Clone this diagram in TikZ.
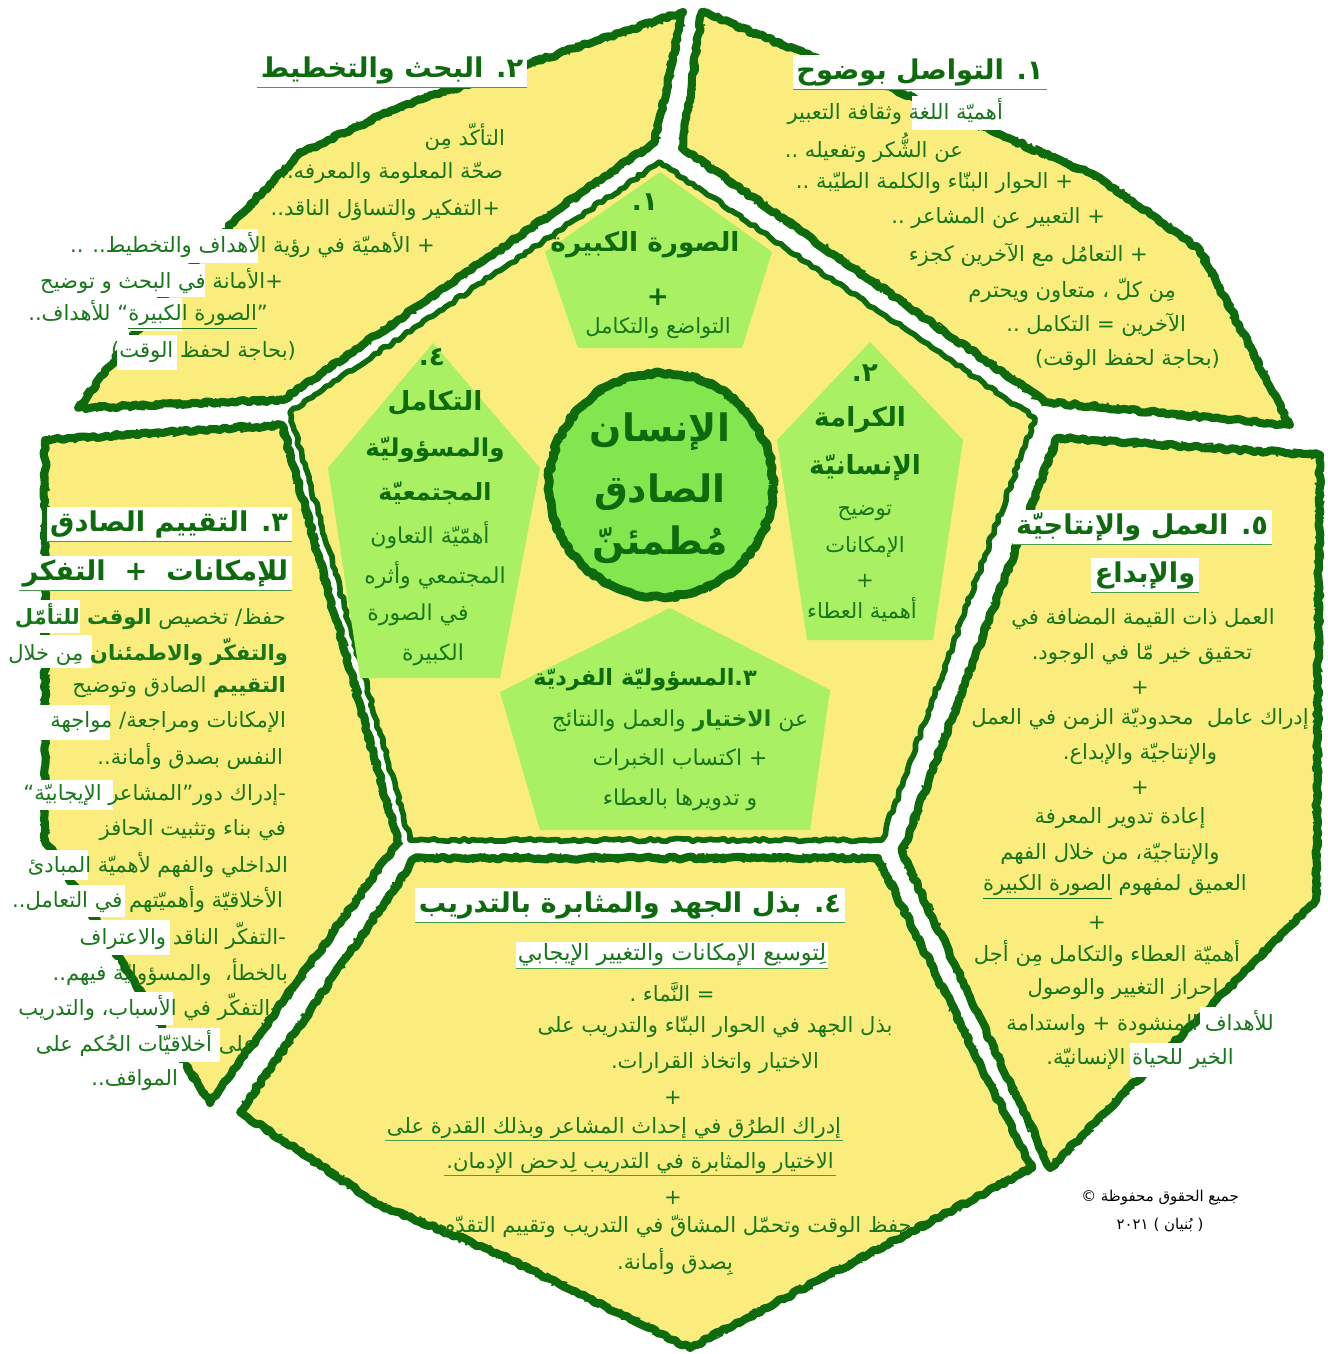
\documentclass[tikz,border=0pt]{standalone}
\usepackage{fontspec}
\usetikzlibrary{decorations.pathmorphing}
\newfontfamily\arabicfont[Script=Arabic]{DejaVu Sans}
\TeXXeTstate=1
\newcommand\ar[1]{\beginR #1\endR}

\definecolor{panelyellow}{HTML}{FAEC7D}
\definecolor{leafgreen}{HTML}{AAF063}
\definecolor{coregreen}{HTML}{82E64F}
\definecolor{rimgreen}{HTML}{0D6A0D}
\definecolor{inkgreen}{HTML}{17761A}
\definecolor{rulegreen}{HTML}{4C9A4C}

\tikzset{
  panel/.style={fill=panelyellow, draw=rimgreen, line width=4.6pt, line join=round,
    decorate, decoration={random steps, segment length=2.5pt, amplitude=0.9pt}},
  fuzz/.style={draw=rimgreen, line width=0.9pt, line join=round,
    decorate, decoration={random steps, segment length=1.2pt, amplitude=2.6pt}},
  leaf/.style={fill=leafgreen},
  patch/.style={fill=white},
  body/.style={text=inkgreen, font=\arabicfont\fontsize{12}{14}\selectfont, inner sep=1pt},
  head/.style={text=rimgreen, font=\arabicfont\bfseries\fontsize{15.5}{18}\selectfont, fill=white, inner sep=2pt},
  title/.style={text=rimgreen, font=\arabicfont\bfseries\fontsize{15}{18}\selectfont, inner sep=1pt},
  core/.style={text=rimgreen, font=\arabicfont\bfseries\fontsize{21.5}{24}\selectfont, inner sep=1pt},
  uline/.style={draw=rulegreen, line width=0.9pt},
  note/.style={text=black, font=\arabicfont\fontsize{8.5}{10}\selectfont, inner sep=1pt}
}
\newcommand\roughpanel[1]{\path[panel] #1; \draw[fuzz] #1;}

\begin{document}
\begin{tikzpicture}[x=0.02cm, y=-0.02cm]
  \useasboundingbox (0,0) rectangle (1327,1354);

  % outer panels
  \roughpanel{(683,12) -- (510,70) -- (400,107) -- (300,153) -- (233,223) -- (160,300) -- (78,408) -- (283,400) -- (655,142) -- cycle}
  \roughpanel{(702,12) -- (913,97) -- (1100,178) -- (1200,250) -- (1290,425) -- (1045,402) -- (682,148) -- cycle}
  \roughpanel{(1057,438) -- (1320,455) -- (1316,900) -- (1050,1168) -- (902,852) -- cycle}
  \roughpanel{(415,858) -- (878,858) -- (1032,1168) -- (690,1348) -- (490,1250) -- (380,1205) -- (240,1112) -- cycle}
  \roughpanel{(45,440) -- (282,425) -- (398,842) -- (210,1103) -- (45,840) -- cycle}

  % central pentagon
  \path[panel, line width=3.2pt] (660,162) -- (1035,418) -- (882,840) -- (410,840) -- (290,412) -- cycle;

  % white text backings
  \fill[patch] (58,229) rectangle (258,263);
  \fill[patch] (25,264) rectangle (205,297);
  \fill[patch] (20,298) rectangle (182,331);
  \fill[patch] (117,335) rectangle (177,370);
  \fill[patch] (912,96) rectangle (1008,130);
  \fill[patch] (0,600) rectangle (80,633);
  \fill[patch] (0,635) rectangle (92,668);
  \fill[patch] (40,705) rectangle (110,740);
  \fill[patch] (0,780) rectangle (113,810);
  \fill[patch] (0,850) rectangle (88,880);
  \fill[patch] (0,885) rectangle (125,917);
  \fill[patch] (58,920) rectangle (170,955);
  \fill[patch] (0,960) rectangle (118,990);
  \fill[patch] (0,992) rectangle (173,1025);
  \fill[patch] (0,1028) rectangle (220,1062);
  \fill[patch] (100,1063) rectangle (183,1098);
  \fill[patch] (1200,1007) rectangle (1277,1040);
  \fill[patch] (1130,1043) rectangle (1193,1077);

  % inner pentagons
  \fill[leaf] (660,172) -- (772,252) -- (742,348) -- (578,348) -- (545,252) -- cycle;
  \fill[leaf] (870,342) -- (963,440) -- (933,640) -- (807,640) -- (777,440) -- cycle;
  \fill[leaf] (670,608) -- (830,690) -- (810,830) -- (540,830) -- (500,692) -- cycle;
  \fill[leaf] (433,343) -- (540,468) -- (500,678) -- (360,678) -- (328,468) -- cycle;

  % centre
  \path[panel, fill=coregreen, line width=5pt] (661,485) circle[radius=112];
  \draw[fuzz] (661,485) circle[radius=112];
  \node[core] (c1) at (660,432) {\ar{الإنسان}};
  \node[core] (c2) at (660,492) {\ar{الصادق}};
  \node[core] (c3) at (660,545) {\ar{مُطمئنّ}};

  % pentagon 1
  \node[title] (pa0) at (645,202) {\ar{١.}};
  \node[title] (pa1) at (645,245) {\ar{الصورة الكبيرة}};
  \node[title] (pa2) at (658,297) {+};
  \node[body] (pa3) at (658,328) {\ar{التواضع والتكامل}};

  % pentagon 2
  \node[title] (pb0) at (865,373) {\ar{٢.}};
  \node[title] (pb1) at (860,420) {\ar{الكرامة}};
  \node[title] (pb2) at (865,468) {\ar{الإنسانيّة}};
  \node[body] (pb3) at (865,513) {\ar{توضيح}};
  \node[body] (pb4) at (865,547) {\ar{الإمكانات}};
  \node[body] (pb5) at (865,581) {+};
  \node[body] (pb6) at (862,610) {\ar{أهمية العطاء}};

  % pentagon 3
  \node[title, font=\arabicfont\bfseries\fontsize{12.8}{15}\selectfont] (pc0) at (645,680) {\ar{٣.المسؤوليّة الفرديّة}};
  \node[body, font=\arabicfont\fontsize{12.5}{15}\selectfont] (pc1) at (680,721) {\ar{عن {\bfseries الاختيار} والعمل والنتائج}};
  \node[body, font=\arabicfont\fontsize{12.5}{15}\selectfont] (pc2) at (680,760) {\ar{+ اكتساب الخبرات}};
  \node[body, font=\arabicfont\fontsize{12.5}{15}\selectfont] (pc3) at (680,800) {\ar{و تدويرها بالعطاء}};

  % pentagon 4
  \node[title] (pd0) at (432,357) {\ar{٤.}};
  \node[title] (pd1) at (435,403) {\ar{التكامل}};
  \node[title, font=\arabicfont\bfseries\fontsize{14}{17}\selectfont] (pd2) at (435,450) {\ar{والمسؤوليّة}};
  \node[title, font=\arabicfont\bfseries\fontsize{13.5}{16}\selectfont] (pd3) at (435,493) {\ar{المجتمعيّة}};
  \node[body, font=\arabicfont\fontsize{12.5}{15}\selectfont] (pd4) at (430,535) {\ar{أهمّيّة التعاون}};
  \node[body, font=\arabicfont\fontsize{12.5}{15}\selectfont] (pd5) at (435,575) {\ar{المجتمعي وأثره}};
  \node[body, font=\arabicfont\fontsize{12.5}{15}\selectfont] (pd6) at (418,615) {\ar{في الصورة}};
  \node[body, font=\arabicfont\fontsize{12.5}{15}\selectfont] (pd7) at (433,655) {\ar{الكبيرة}};

  % top left panel
  \node[head] (tl0) at (392,70) {\ar{٢. البحث والتخطيط}};
  \draw[uline] (tl0.south west) -- (tl0.south east);
  \node[body, anchor=east] (tl1) at (507,137) {\ar{التأكّد مِن}};
  \node[body, anchor=east] (tl2) at (505,173) {\ar{صحّة المعلومة والمعرفه..}};
  \node[body, anchor=east] (tl3) at (502,210) {\ar{+التفكير والتساؤل الناقد..}};
  \node[body, anchor=east] (tl4) at (437,245) {\ar{+ الأهميّة في رؤية الأهداف والتخطيط.. ..}};
  \node[body, anchor=east] (tl5) at (285,281) {\ar{+الأمانة في البحث و توضيح}};
  \node[body, anchor=east] (tl6) at (270,315) {\ar{”\underline{\beginR الصورة الكبيرة\endR}“ للأهداف..}};
  \node[body, anchor=east] (tl7) at (298,352) {\ar{(بحاجة لحفظ الوقت)}};

  % top right panel
  \node[head] (tr0) at (920,72) {\ar{١. التواصل بوضوح}};
  \draw[uline] (tr0.south west) -- (tr0.south east);
  \node[body, anchor=east] (tr1) at (1005,112) {\ar{أهميّة اللغة وثقافة التعبير}};
  \node[body, anchor=east] (tr2) at (965,148) {\ar{عن الشُّكر وتفعيله ..}};
  \node[body, anchor=east] (tr3) at (1075,183) {\ar{+ الحوار البنّاء والكلمة الطيّبة ..}};
  \node[body, anchor=east] (tr4) at (1107,218) {\ar{+ التعبير عن المشاعر ..}};
  \node[body, anchor=east] (tr5) at (1150,255) {\ar{+ التعامُل مع الآخرين كجزء}};
  \node[body, anchor=east] (tr6) at (1178,290) {\ar{مِن كلّ ، متعاون ويحترم}};
  \node[body, anchor=east] (tr7) at (1188,325) {\ar{الآخرين = التكامل ..}};
  \node[body, anchor=east] (tr8) at (1222,360) {\ar{(بحاجة لحفظ الوقت)}};

  % right panel
  \node[head] (rt0) at (1142,527) {\ar{٥. العمل والإنتاجيّة}};
  \draw[uline] (rt0.south west) -- (rt0.south east);
  \node[head] (rt1) at (1145,575) {\ar{والإبداع}};
  \draw[uline] (rt1.south west) -- (rt1.south east);
  \node[body] (rt2) at (1143,619) {\ar{العمل ذات القيمة المضافة في}};
  \node[body] (rt3) at (1142,654) {\ar{تحقيق خير مّا في الوجود.}};
  \node[body] (rt4) at (1140,688) {+};
  \node[body] (rt5) at (1140,719) {\ar{إدراك عامل \ محدوديّة الزمن في العمل}};
  \node[body] (rt6) at (1140,754) {\ar{والإنتاجيّة والإبداع.}};
  \node[body] (rt7) at (1140,788) {+};
  \node[body] (rt8) at (1120,818) {\ar{إعادة تدوير المعرفة}};
  \node[body] (rt9) at (1110,854) {\ar{والإنتاجيّة، من خلال الفهم}};
  \node[body] (rt10) at (1115,887) {\ar{العميق لمفهوم \underline{\beginR الصورة الكبيرة\endR}}};
  \node[body] (rt11) at (1097,923) {+};
  \node[body] (rt12) at (1107,954) {\ar{أهميّة العطاء والتكامل مِن أجل}};
  \node[body] (rt13) at (1123,989) {\ar{إحراز التغيير والوصول}};
  \node[body] (rt14) at (1140,1023) {\ar{للأهداف المنشودة + واستدامة}};
  \node[body] (rt15) at (1140,1059) {\ar{الخير للحياة الإنسانيّة.}};

  % bottom panel
  \node[head] (bt0) at (630,905) {\ar{٤. بذل الجهد والمثابرة بالتدريب}};
  \draw[uline] (bt0.south west) -- (bt0.south east);
  \node[body, fill=white, font=\arabicfont\fontsize{12.8}{15}\selectfont] (bt1) at (672,955) {\ar{لِتوسيع الإمكانات والتغيير الإيجابي}};
  \draw[uline] (bt1.south west) -- (bt1.south east);
  \node[body] (bt2) at (672,992) {\ar{= النَّماء .}};
  \node[body] (bt3) at (715,1027) {\ar{بذل الجهد في الحوار البنّاء والتدريب على}};
  \node[body] (bt4) at (715,1063) {\ar{الاختيار واتخاذ القرارات.}};
  \node[body] (bt5) at (673,1098) {+};
  \node[body] (bt6) at (614,1128) {\ar{إدراك الطرُق في إحداث المشاعر وبذلك القدرة على}};
  \draw[uline] (bt6.south west) -- (bt6.south east);
  \node[body] (bt7) at (640,1163) {\ar{الاختيار والمثابرة في التدريب لِدحض الإدمان.}};
  \draw[uline] (bt7.south west) -- (bt7.south east);
  \node[body] (bt8) at (673,1198) {+};
  \node[body] (bt9) at (677,1226) {\ar{حفظ الوقت وتحمّل المشاقّ في التدريب وتقييم التقدّم}};
  \node[body] (bt10) at (675,1262) {\ar{بِصدق وأمانة.}};

  % left panel
  \node[head, anchor=east] (lf0) at (292,524) {\ar{٣. التقييم الصادق}};
  \draw[uline] (lf0.south west) -- (lf0.south east);
  \node[head, anchor=east] (lf1) at (292,573) {\ar{للإمكانات \ + \ التفكر}};
  \draw[uline] (lf1.south west) -- (lf1.south east);
  \node[body, anchor=east] (lf2) at (288,617) {\ar{حفظ/ تخصيص {\bfseries الوقت للتأمّل}}};
  \node[body, anchor=east] (lf3) at (290,652) {\ar{{\bfseries والتفكّر والاطمئنان} مِن خلال}};
  \node[body, anchor=east] (lf4) at (288,687) {\ar{{\bfseries التقييم} الصادق وتوضيح}};
  \node[body, anchor=east] (lf5) at (288,722) {\ar{الإمكانات ومراجعة/ مواجهة}};
  \node[body, anchor=east] (lf6) at (285,757) {\ar{النفس بصدق وأمانة..}};
  \node[body, anchor=east] (lf7) at (288,795) {\ar{-إدراك دور”المشاعر الإيجابيّة“}};
  \node[body, anchor=east] (lf8) at (288,830) {\ar{في بناء وتثبيت الحافز}};
  \node[body, anchor=east] (lf9) at (290,865) {\ar{الداخلي والفهم لأهميّة المبادئ}};
  \node[body, anchor=east] (lf10) at (285,900) {\ar{الأخلاقيّة وأهميّتهم في التعامل..}};
  \node[body, anchor=east] (lf11) at (288,936) {\ar{-التفكّر الناقد والاعتراف}};
  \node[body, anchor=east] (lf12) at (290,972) {\ar{بالخطأ، \ والمسؤوليّة فيهم..}};
  \node[body, anchor=east] (lf13) at (280,1007) {\ar{-التفكّر في الأسباب، والتدريب}};
  \node[body, anchor=east] (lf14) at (258,1043) {\ar{على أخلاقيّات الحُكم على}};
  \node[body, anchor=east] (lf15) at (180,1080) {\ar{المواقف..}};

  % rights note
  \node[note] (cr0) at (1160,1198) {\ar{جميع الحقوق محفوظة ©}};
  \node[note] (cr1) at (1160,1225) {\ar{( بُنيان ) ٢٠٢١}};
\end{tikzpicture}
\end{document}
